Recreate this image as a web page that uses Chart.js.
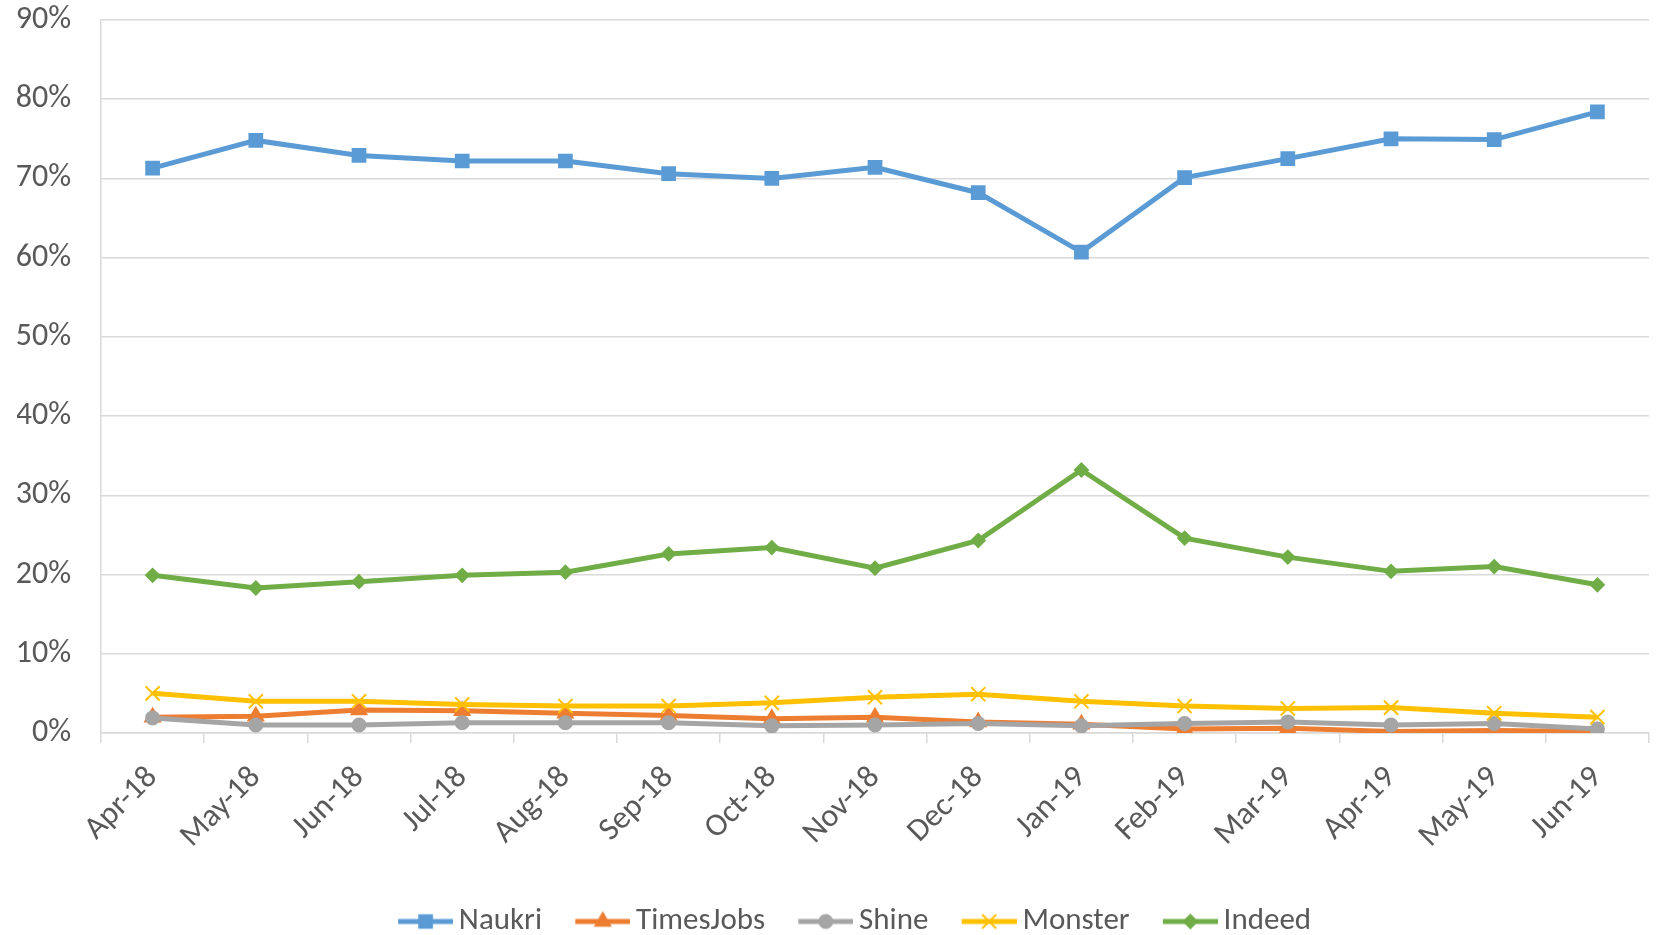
<!DOCTYPE html>
<html>
<head>
<meta charset="utf-8">
<script src="https://cdn.jsdelivr.net/npm/chart.js@4.4.1/dist/chart.umd.min.js"></script>
<style>
  html, body { margin: 0; padding: 0; background: #fff; overflow: hidden; }
  #wrap { width: 1661px; height: 935px; }
  #chart { display: block; }
</style>
</head>
<body>
<div id="wrap"><canvas id="chart"></canvas></div>
<script>
// Данные графика
const months = ['Apr-18', 'May-18', 'Jun-18', 'Jul-18', 'Aug-18', 'Sep-18', 'Oct-18', 'Nov-18',
                'Dec-18', 'Jan-19', 'Feb-19', 'Mar-19', 'Apr-19', 'May-19', 'Jun-19'];
const naukri    = [71.3, 74.8, 72.9, 72.2, 72.2, 70.6, 70.0, 71.4, 68.2, 60.7, 70.1, 72.5, 75.0, 74.9, 78.4];
const timesJobs = [2.0, 2.1, 2.9, 2.8, 2.5, 2.2, 1.8, 2.0, 1.4, 1.1, 0.5, 0.6, 0.2, 0.3, 0.2];
const shine     = [1.9, 1.0, 1.0, 1.3, 1.3, 1.3, 0.9, 1.0, 1.2, 0.9, 1.2, 1.4, 1.0, 1.2, 0.5];
const monster   = [5.0, 4.0, 4.0, 3.6, 3.4, 3.4, 3.8, 4.5, 4.9, 4.0, 3.4, 3.1, 3.2, 2.5, 2.0];
const indeed    = [19.9, 18.3, 19.1, 19.9, 20.3, 22.6, 23.4, 20.8, 24.3, 33.2, 24.6, 22.2, 20.4, 21.0, 18.7];
const yTicks    = [0, 10, 20, 30, 40, 50, 60, 70, 80, 90];

const FONT = 'Carlito, "Liberation Sans", sans-serif';
const TEXT = '#595959';
const GRID = '#D9D9D9';

const series = [
    { label: 'Naukri',    data: naukri,    color: '#5B9BD5', style: 'rect',     radius: 9 },
    { label: 'TimesJobs', data: timesJobs, color: '#ED7D31', style: 'triangle', radius: 8.5 },
    { label: 'Shine',     data: shine,     color: '#A5A5A5', style: 'circle',   radius: 6.5 },
    { label: 'Monster',   data: monster,   color: '#FFC000', style: 'crossRot', radius: 10 },
    { label: 'Indeed',    data: indeed,    color: '#70AD47', style: 'rectRot',  radius: 6.5 }
];

// Значок легенды: линия с маркером (слева прозрачный отступ под расчёт позиций Chart.js)
const ICON_W = 98, LINE_A = 43, LINE_B = 98;
function legendIcon(s) {
    const c = document.createElement('canvas');
    c.width = ICON_W; c.height = 22;
    const ctx = c.getContext('2d');
    ctx.strokeStyle = s.color;
    ctx.lineWidth = 5;
    ctx.beginPath(); ctx.moveTo(LINE_A, 11); ctx.lineTo(LINE_B, 11); ctx.stroke();
    ctx.fillStyle = s.color;
    ctx.lineWidth = 2;
    Chart.helpers.drawPoint(ctx, { pointStyle: s.style, radius: s.radius, borderWidth: 2 }, (LINE_A + LINE_B) / 2, 11);
    return c;
}

const datasets = series.map((s, i) => ({
    label: s.label,
    data: s.data,
    borderColor: s.color,
    backgroundColor: s.color,
    borderWidth: 5,
    pointStyle: s.style,
    pointRadius: s.radius,
    pointBorderWidth: 2,
    pointBorderColor: s.color,
    pointBackgroundColor: s.color,
    tension: 0,
    order: series.length - i
}));

new Chart(document.getElementById('chart'), {
    type: 'line',
    data: { labels: months, datasets: datasets },
    options: {
        responsive: true,
        maintainAspectRatio: false,
        animation: false,
        layout: { padding: { top: 0, right: 2, left: 17, bottom: -12 } },
        plugins: {
            tooltip: { enabled: false },
            legend: {
                position: 'bottom',
                labels: {
                    usePointStyle: true,
                    pointStyleWidth: 78.5,
                    font: { family: FONT, size: 31 },
                    color: TEXT,
                    padding: 0,
                    sort: (a, b) => a.datasetIndex - b.datasetIndex,
                    generateLabels: (chart) => series.map((s, i) => ({
                        text: s.label,
                        fontColor: TEXT,
                        pointStyle: legendIcon(s),
                        datasetIndex: i,
                        hidden: false,
                        lineWidth: 0
                    }))
                }
            }
        },
        scales: {
            x: {
                offset: true,
                grid: { offset: true, drawOnChartArea: false, drawTicks: true, tickLength: 10, color: GRID, lineWidth: 1.5 },
                border: { color: GRID, width: 1.5 },
                ticks: {
                    font: { family: FONT, size: 32 },
                    color: TEXT,
                    maxRotation: 45,
                    minRotation: 45,
                    autoSkip: false,
                    padding: 16
                },
                afterFit: (scale) => {
                    scale.height += 34.5;
                    scale.paddingLeft = 0;
                    scale.paddingRight = 0;
                }
            },
            y: {
                min: 0,
                max: 90,
                afterBuildTicks: (scale) => { scale.ticks = yTicks.map(v => ({ value: v })); },
                grid: { color: GRID, lineWidth: 1.5, drawTicks: false },
                border: { color: GRID, width: 1.5 },
                ticks: {
                    font: { family: FONT, size: 32 },
                    color: TEXT,
                    padding: 30,
                    callback: (v) => v + '%'
                },
                afterFit: (scale) => {
                    scale.width = 84;
                    scale.paddingTop = 20;
                    scale.paddingBottom = 0;
                }
            }
        }
    }
});
</script>
</body>
</html>
